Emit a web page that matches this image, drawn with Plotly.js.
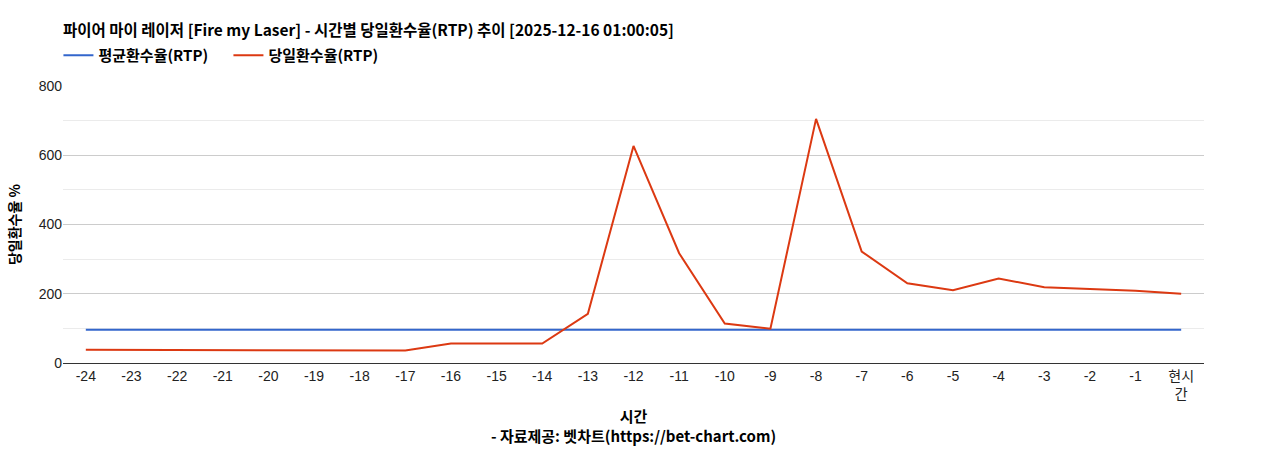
<!DOCTYPE html>
<html>
<head>
<meta charset="utf-8">
<script src="https://cdn.plot.ly/plotly-3.0.1.min.js"></script>
<style>
  body { margin: 0; background: #fff; }
  #chart { width: 1268px; height: 450px; }
</style>
</head>
<body>
<div id="chart"></div>
<script>
    // hourly RTP for the last 24 hours
    var hours = ['-24', '-23', '-22', '-21', '-20', '-19', '-18', '-17', '-16', '-15', '-14', '-13',
                 '-12', '-11', '-10', '-9', '-8', '-7', '-6', '-5', '-4', '-3', '-2', '-1', '현시간'];
    var hourLabels = ['-24', '-23', '-22', '-21', '-20', '-19', '-18', '-17', '-16', '-15', '-14', '-13',
                      '-12', '-11', '-10', '-9', '-8', '-7', '-6', '-5', '-4', '-3', '-2', '-1', '현시<br>간'];
    var avgRtp = [96, 96, 96, 96, 96, 96, 96, 96, 96, 96, 96, 96,
                  96, 96, 96, 96, 96, 96, 96, 96, 96, 96, 96, 96, 96];
    var dayRtp = [38, 38, 38, 38, 38, 36, 36, 36, 56, 56, 56, 142,
                  627, 317, 114, 99, 705, 322, 230, 210, 244, 219, 214, 209, 200];

    var fontFam = 'Liberation Sans, Arial, Noto Sans CJK KR, sans-serif';
    var boldFam = 'Noto Sans CJK KR, Noto Sans, sans-serif';

    var trace1 = {
        x: hours,
        y: avgRtp,
        name: '평균환수율(RTP)',
        mode: 'lines',
        line: {color: '#3366cc', width: 2},
        type: 'scatter'
    };
    var trace2 = {
        x: hours,
        y: dayRtp,
        name: '당일환수율(RTP)',
        mode: 'lines',
        line: {color: '#dc3912', width: 2},
        type: 'scatter'
    };

    var layout = {
        width: 1268,
        height: 450,
        paper_bgcolor: '#fff',
        plot_bgcolor: '#fff',
        margin: {t: 86, r: 64, l: 63, b: 87},
        font: {family: fontFam, size: 14, color: '#222'},
        title: {
            text: '파이어 마이 레이저 [Fire my Laser] - 시간별 당일환수율(RTP) 추이 [2025-12-16 01:00:05]',
            font: {family: boldFam, size: 15.5, color: '#000', weight: 'bold'},
            x: 0, xref: 'paper', xanchor: 'left',
            y: 0.933, yref: 'container', yanchor: 'middle'
        },
        showlegend: true,
        legend: {
            orientation: 'h',
            x: -0.004, xanchor: 'left',
            y: 1.11, yanchor: 'middle',
            font: {family: boldFam, size: 15, color: '#000', weight: 'bold'},
            itemwidth: 30,
            entrywidth: 125,
            entrywidthmode: 'pixels',
            traceorder: 'normal'
        },
        xaxis: {
            type: 'category',
            range: [-0.5, 24.5],
            tickvals: hours,
            ticktext: hourLabels,
            showgrid: false,
            zeroline: false,
            showline: true,
            linecolor: '#333',
            linewidth: 1,
            ticks: '',
            tickfont: {family: fontFam, size: 14, color: '#222'},
            title: {
                text: '시간<br>- 자료제공: 벳차트(https://bet-chart.com)',
                font: {family: boldFam, size: 15, color: '#000', weight: 'bold'},
                standoff: 10
            }
        },
        yaxis: {
            range: [0, 800],
            dtick: 200,
            tick0: 0,
            showgrid: true,
            gridcolor: '#cccccc',
            zeroline: false,
            showline: false,
            ticks: '',
            tickfont: {family: fontFam, size: 14, color: '#222'},
            minor: {dtick: 100, showgrid: true, gridcolor: '#ebebeb', gridwidth: 1},
            title: {
                text: '당일환수율 %',
                font: {family: boldFam, size: 14, color: '#000', weight: 'bold'},
                standoff: 14
            }
        }
    };

    Plotly.newPlot('chart', [trace1, trace2], layout, {displayModeBar: false});
</script>
</body>
</html>
